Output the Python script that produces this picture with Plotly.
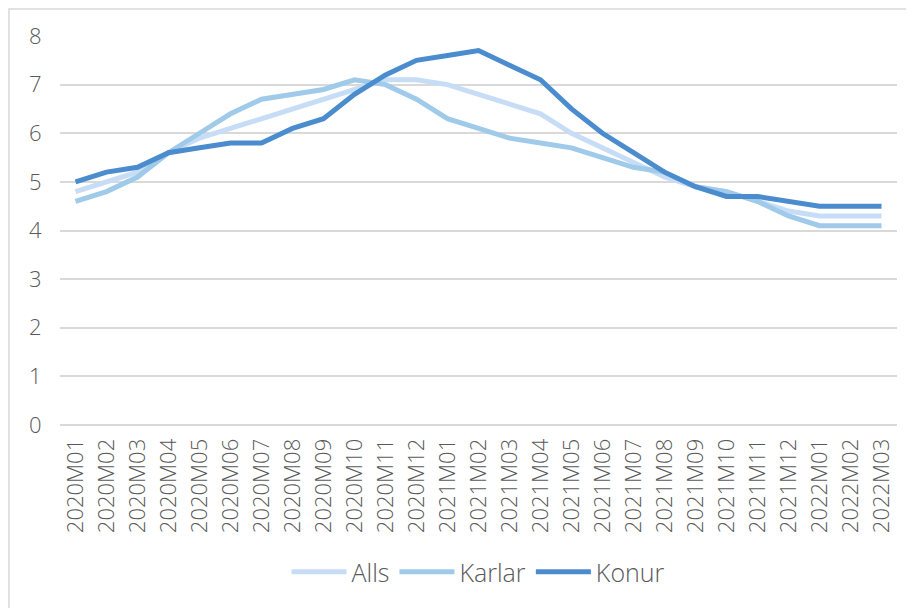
import plotly.graph_objects as go

months = ["2020M01","2020M02","2020M03","2020M04","2020M05","2020M06","2020M07","2020M08","2020M09",
          "2020M10","2020M11","2020M12","2021M01","2021M02","2021M03","2021M04","2021M05","2021M06",
          "2021M07","2021M08","2021M09","2021M10","2021M11","2021M12","2022M01","2022M02","2022M03"]
alls =   [4.8, 5.0, 5.2, 5.6, 5.9, 6.1, 6.3, 6.5, 6.7, 6.9, 7.1, 7.1, 7.0, 6.8, 6.6, 6.4, 6.0, 5.7,
          5.4, 5.1, 4.9, 4.8, 4.6, 4.4, 4.3, 4.3, 4.3]
karlar = [4.6, 4.8, 5.1, 5.6, 6.0, 6.4, 6.7, 6.8, 6.9, 7.1, 7.0, 6.7, 6.3, 6.1, 5.9, 5.8, 5.7, 5.5,
          5.3, 5.2, 4.9, 4.8, 4.6, 4.3, 4.1, 4.1, 4.1]
konur =  [5.0, 5.2, 5.3, 5.6, 5.7, 5.8, 5.8, 6.1, 6.3, 6.8, 7.2, 7.5, 7.6, 7.7, 7.4, 7.1, 6.5, 6.0,
          5.6, 5.2, 4.9, 4.7, 4.7, 4.6, 4.5, 4.5, 4.5]

font_family = "Open Sans, Noto Sans, sans-serif"
txt = "#595959"

fig = go.Figure()
for name, vals, col in [("Alls", alls, "#c7ddf5"), ("Karlar", karlar, "#9fcaea"), ("Konur", konur, "#4a8ccd")]:
    fig.add_trace(go.Scatter(x=months, y=vals, name=name, mode="lines",
                             line=dict(color=col, width=5, shape="linear"), hoverinfo="x+y+name"))

W, H = 906, 600
L, R, T, B = 52, 17, 28, 183
pw, ph = W - L - R, H - T - B

fig.update_layout(
    width=W, height=H,
    margin=dict(l=L, r=R, t=T, b=B, autoexpand=False),
    paper_bgcolor="white", plot_bgcolor="white",
    font=dict(family=font_family, color=txt, size=20),
    showlegend=True,
    legend=dict(orientation="h", x=0.5, xanchor="center", y=-(564 - (H - B)) / ph, yanchor="middle",
                font=dict(size=25, color=txt, weight=300), tracegroupgap=0, itemwidth=55),
    xaxis=dict(type="category", range=[-0.5, len(months) - 0.5], showgrid=False, tickangle=-90,
               tickfont=dict(size=22, color=txt, weight=300),
               ticks="outside", ticklen=4, tickcolor="rgba(0,0,0,0)", showline=False, zeroline=False,
               automargin=False),
    yaxis=dict(range=[0, 8], dtick=1, showgrid=True, gridcolor="#d9d9d9", gridwidth=2,
               zeroline=True, zerolinecolor="#d9d9d9", zerolinewidth=2,
               tickfont=dict(size=22, color=txt, weight=300), ticks="outside", ticklen=13,
               tickcolor="rgba(0,0,0,0)", showline=False, automargin=False),
)
fig.add_shape(type="rect", xref="paper", yref="paper",
              x0=-(L - 1) / pw, x1=1 + (R + 10) / pw, y0=-(B + 10) / ph, y1=1 + (T - 1) / ph,
              line=dict(color="#d9d9d9", width=1.5), fillcolor="rgba(0,0,0,0)", layer="below")

fig.write_html("out.html")
